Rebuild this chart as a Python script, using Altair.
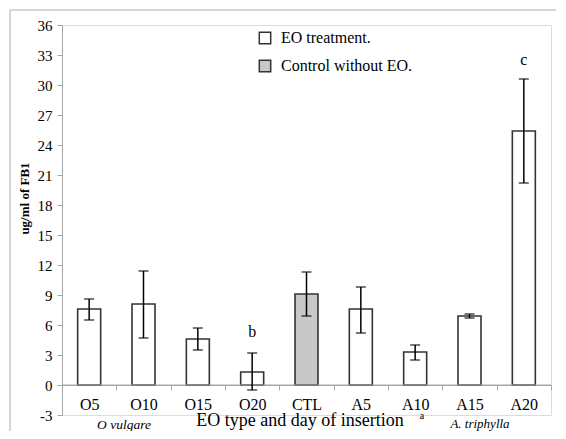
import altair as alt
import pandas as pd

categories = ["O5", "O10", "O15", "O20", "CTL", "A5", "A10", "A15", "A20"]
means = [7.6, 8.1, 4.6, 1.3, 9.1, 7.6, 3.3, 6.9, 25.4]
err_lo = [6.5, 4.7, 3.5, -0.5, 6.9, 5.2, 2.5, 6.7, 20.2]
err_hi = [8.6, 11.4, 5.7, 3.2, 11.3, 9.8, 4.0, 7.1, 30.6]
groups = ["EO treatment."] * 4 + ["Control without EO."] + ["EO treatment."] * 4
letter_cats = ["O20", "A20"]
letters = ["b", "c"]
letter_y = [5.3, 32.5]
y_ticks = list(range(-3, 37, 3))

FONT = "Liberation Serif"
GRAY = "#a6a6a6"
DARK = "#333333"

df = pd.DataFrame({"cat": categories, "mean": means, "lo": err_lo, "hi": err_hi, "grp": groups})
lab = pd.DataFrame({"cat": letter_cats, "txt": letters, "y": letter_y})

xaxis = alt.Axis(title=None, offset=-30, tickBand="extent", domainColor=GRAY,
                 tickColor=GRAY, tickSize=5, labelFont=FONT, labelFontSize=16,
                 labelColor="black", labelPadding=6, labelAngle=0, labelOverlap=False)
xscale = alt.Scale(paddingInner=0, paddingOuter=0)
yscale = alt.Scale(domain=[-3, 36], nice=False, zero=False)
yaxis = alt.Axis(title="ug/ml of FB1", values=y_ticks, grid=False, domainColor=GRAY,
                 tickColor=GRAY, tickSize=5, labelFont=FONT, labelFontSize=15,
                 labelColor="black", labelPadding=5, labelOverlap=False,
                 labelExpr="datum.value < 0 ? '-' + abs(datum.value) : datum.label",
                 titleFont=FONT, titleFontSize=13,
                 titleFontWeight="bold", titleColor="black", titleX=-31, titleY=173,
                 titleAngle=270)


def X():
    return alt.X("cat:N", sort=categories, scale=xscale, axis=xaxis)


def Y(field):
    return alt.Y(field, scale=yscale, axis=yaxis)


base = alt.Chart(df)

bars = base.mark_bar(size=23, stroke=DARK, strokeWidth=1.6).encode(
    x=X(),
    y=Y("mean:Q"),
    y2=alt.datum(0),
    fill=alt.Fill("grp:N", scale=alt.Scale(domain=["EO treatment.", "Control without EO."],
                                           range=["white", "#c8c8c8"]),
                  legend=alt.Legend(title=None, orient="none", legendX=195, legendY=5,
                                    symbolType="square", symbolSize=130,
                                    symbolStrokeColor=DARK, symbolStrokeWidth=1.5,
                                    labelFont=FONT, labelFontSize=16, labelColor="black",
                                    rowPadding=10, labelOffset=8)),
)

zero = alt.Chart(pd.DataFrame({"z": [0]})).mark_rule(color=GRAY, strokeWidth=1).encode(
    y=Y("z:Q"), x=alt.value(0), x2=alt.value(489))

err = base.mark_rule(color="black", strokeWidth=1.5).encode(
    x=X(), y=Y("lo:Q"), y2="hi:Q")
cap_lo = base.mark_tick(color="black", thickness=1.5, size=10, orient="horizontal").encode(
    x=X(), y=Y("lo:Q"))
cap_hi = base.mark_tick(color="black", thickness=1.5, size=10, orient="horizontal").encode(
    x=X(), y=Y("hi:Q"))

letters_layer = alt.Chart(lab).mark_text(font=FONT, fontSize=16, color="black").encode(
    x=X(), y=Y("y:Q"), text="txt:N")

xtitle = alt.Chart(pd.DataFrame({"t": ["EO type and day of insertion"]})).mark_text(
    font=FONT, fontSize=18, color="black").encode(
    x=alt.value(238), y=alt.value(396), text="t:N")
xsup = alt.Chart(pd.DataFrame({"t": ["a"]})).mark_text(
    font=FONT, fontSize=10, color="black").encode(
    x=alt.value(360), y=alt.value(391), text="t:N")
sp1 = alt.Chart(pd.DataFrame({"t": ["O vulgare"]})).mark_text(
    font=FONT, fontSize=13.5, fontStyle="italic", color="black").encode(
    x=alt.value(62), y=alt.value(400), text="t:N")
sp2 = alt.Chart(pd.DataFrame({"t": ["A. triphylla"]})).mark_text(
    font=FONT, fontSize=13, fontStyle="italic", color="black").encode(
    x=alt.value(418), y=alt.value(399), text="t:N")

frame_l = alt.Chart(pd.DataFrame({"z": [0]})).mark_rule(color="#c8c8c8", strokeWidth=1.5).encode(
    x=alt.value(-52), y=alt.value(-15), y2=alt.value(430))
frame_t = alt.Chart(pd.DataFrame({"z": [0]})).mark_rule(color="#c8c8c8", strokeWidth=1.5).encode(
    x=alt.value(-52), x2=alt.value(520), y=alt.value(-15))

chart = alt.layer(bars, frame_l, frame_t, zero, err, cap_lo, cap_hi, letters_layer,
                  xtitle, xsup, sp1, sp2).properties(
    width=489, height=390,
    autosize=alt.AutoSizeParams(type="none"),
    padding={"left": 54, "top": 17, "right": 5, "bottom": 16},
).configure_view(stroke=None).configure(background="white", font=FONT)

chart.save("out.html", embed_options={"renderer": "svg", "actions": False})
